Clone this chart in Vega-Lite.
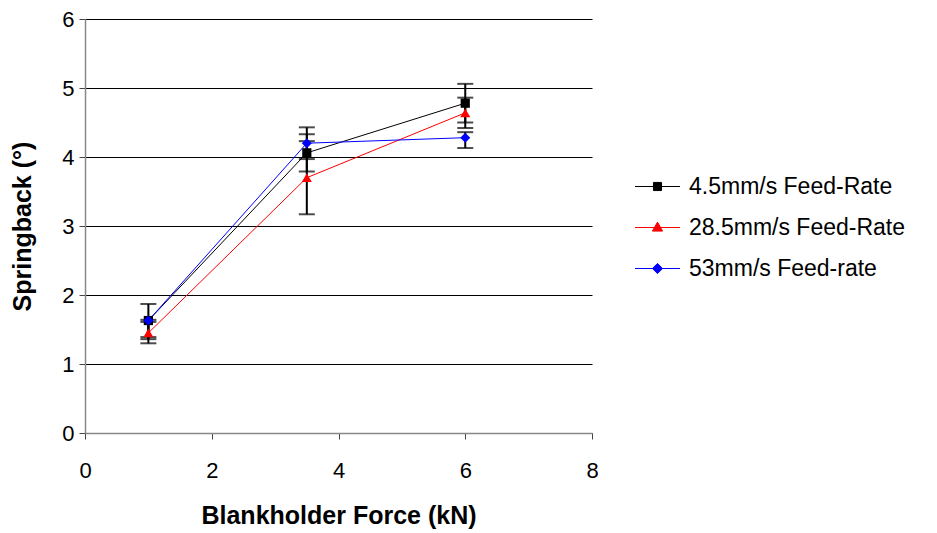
{
  "$schema": "https://vega.github.io/schema/vega-lite/v6.json",
  "width": 507,
  "height": 414,
  "autosize": "none",
  "padding": {"left": 85, "top": 19, "right": 345, "bottom": 100},
  "background": "white",
  "config": {
    "font": "Liberation Sans",
    "view": {"stroke": null},
    "axis": {
      "labelFont": "Liberation Sans", "titleFont": "Liberation Sans", "labelColor": "black", "titleColor": "black",
      "labelFontSize": 22, "titleFontSize": 25, "titleFontWeight": "bold", "format": "d", "labelFlush": false,
      "domainColor": "#888888", "domainWidth": 1.5, "tickColor": "#444444", "tickSize": 6
    },
    "axisX": {"grid": false, "labelPadding": 21, "titlePadding": 22},
    "axisY": {"grid": true, "gridColor": "black", "gridOpacity": 1, "gridWidth": 1, "labelPadding": 5, "titlePadding": 26},
    "legend": {"labelFontSize": 23, "labelFont": "Liberation Sans", "labelColor": "black"}
  },
  "data": {
    "values": [
      {"series": "4.5mm/s Feed-Rate", "force": 1, "sb": 1.63, "lo": 1.39, "hi": 1.87},
      {"series": "4.5mm/s Feed-Rate", "force": 3.5, "sb": 4.06, "lo": 3.79, "hi": 4.33},
      {"series": "4.5mm/s Feed-Rate", "force": 6, "sb": 4.78, "lo": 4.50, "hi": 5.06},
      {"series": "28.5mm/s Feed-Rate", "force": 1, "sb": 1.45, "lo": 1.30, "hi": 1.61},
      {"series": "28.5mm/s Feed-Rate", "force": 3.5, "sb": 3.70, "lo": 3.17, "hi": 4.23},
      {"series": "28.5mm/s Feed-Rate", "force": 6, "sb": 4.64, "lo": 4.42, "hi": 4.86},
      {"series": "53mm/s Feed-rate", "force": 1, "sb": 1.63, "lo": 1.36, "hi": 1.64},
      {"series": "53mm/s Feed-rate", "force": 3.5, "sb": 4.20, "lo": 3.97, "hi": 4.43},
      {"series": "53mm/s Feed-rate", "force": 6, "sb": 4.28, "lo": 4.13, "hi": 4.36}
    ]
  },
  "encoding": {
    "x": {
      "field": "force", "type": "quantitative",
      "scale": {"domain": [0, 8], "nice": false, "zero": false},
      "axis": {"values": [0, 2, 4, 6, 8], "title": "Blankholder Force (kN)"}
    }
  },
  "layer": [
    {
      "mark": {"type": "errorbar", "ticks": {"size": 16, "thickness": 2, "color": "black"}, "rule": {"strokeWidth": 2, "color": "black"}},
      "encoding": {
        "y": {"field": "lo", "type": "quantitative", "scale": {"domain": [0, 6], "nice": false},
          "axis": {"values": [0, 1, 2, 3, 4, 5, 6], "title": "Springback (°)"}},
        "y2": {"field": "hi"},
        "detail": {"field": "series"}
      }
    },
    {
      "mark": {"type": "line", "strokeWidth": 1},
      "encoding": {
        "y": {"field": "sb", "type": "quantitative"},
        "color": {"field": "series", "type": "nominal",
          "scale": {"domain": ["4.5mm/s Feed-Rate", "28.5mm/s Feed-Rate", "53mm/s Feed-rate"], "range": ["#000000", "#FF0000", "#0000FF"]},
          "legend": {
            "title": null, "orient": "none", "legendX": 557, "legendY": 152,
            "padding": 0, "labelOffset": 16, "symbolSize": 900, "rowPadding": 13, "labelLimit": 400,
            "encode": {
              "symbols": {"update": {
                "shape": {"signal": "datum.value === '4.5mm/s Feed-Rate' ? 'M-1.5,0H1.5M-0.27,-0.27H0.27V0.27H-0.27Z' : datum.value === '28.5mm/s Feed-Rate' ? 'M-1.5,0H1.5M0,-0.36L0.34,0.24L-0.34,0.24Z' : 'M-1.5,0H1.5M0,-0.34L0.34,0L0,0.34L-0.34,0Z'"},
                "fill": {"signal": "datum.value === '4.5mm/s Feed-Rate' ? '#000000' : datum.value === '28.5mm/s Feed-Rate' ? '#FF0000' : '#0000FF'"},
                "stroke": {"signal": "datum.value === '4.5mm/s Feed-Rate' ? '#000000' : datum.value === '28.5mm/s Feed-Rate' ? '#FF0000' : '#0000FF'"},
                "strokeWidth": {"value": 1},
                "opacity": {"value": 1},
                "fillOpacity": {"value": 1}
              }}
            }
          }}
      }
    },
    {
      "transform": [{"filter": "datum.series === '4.5mm/s Feed-Rate'"}],
      "mark": {"type": "point", "filled": true, "opacity": 1, "shape": "square", "size": 85, "color": "#000000"},
      "encoding": {"y": {"field": "sb", "type": "quantitative"}}
    },
    {
      "transform": [{"filter": "datum.series === '28.5mm/s Feed-Rate'"}],
      "mark": {"type": "point", "filled": true, "opacity": 1, "shape": "triangle-up", "size": 100, "color": "#FF0000"},
      "encoding": {"y": {"field": "sb", "type": "quantitative"}}
    },
    {
      "transform": [{"filter": "datum.series === '53mm/s Feed-rate'"}],
      "mark": {"type": "point", "filled": true, "opacity": 1, "shape": "diamond", "size": 100, "color": "#0000FF"},
      "encoding": {"y": {"field": "sb", "type": "quantitative"}}
    }
  ]
}
